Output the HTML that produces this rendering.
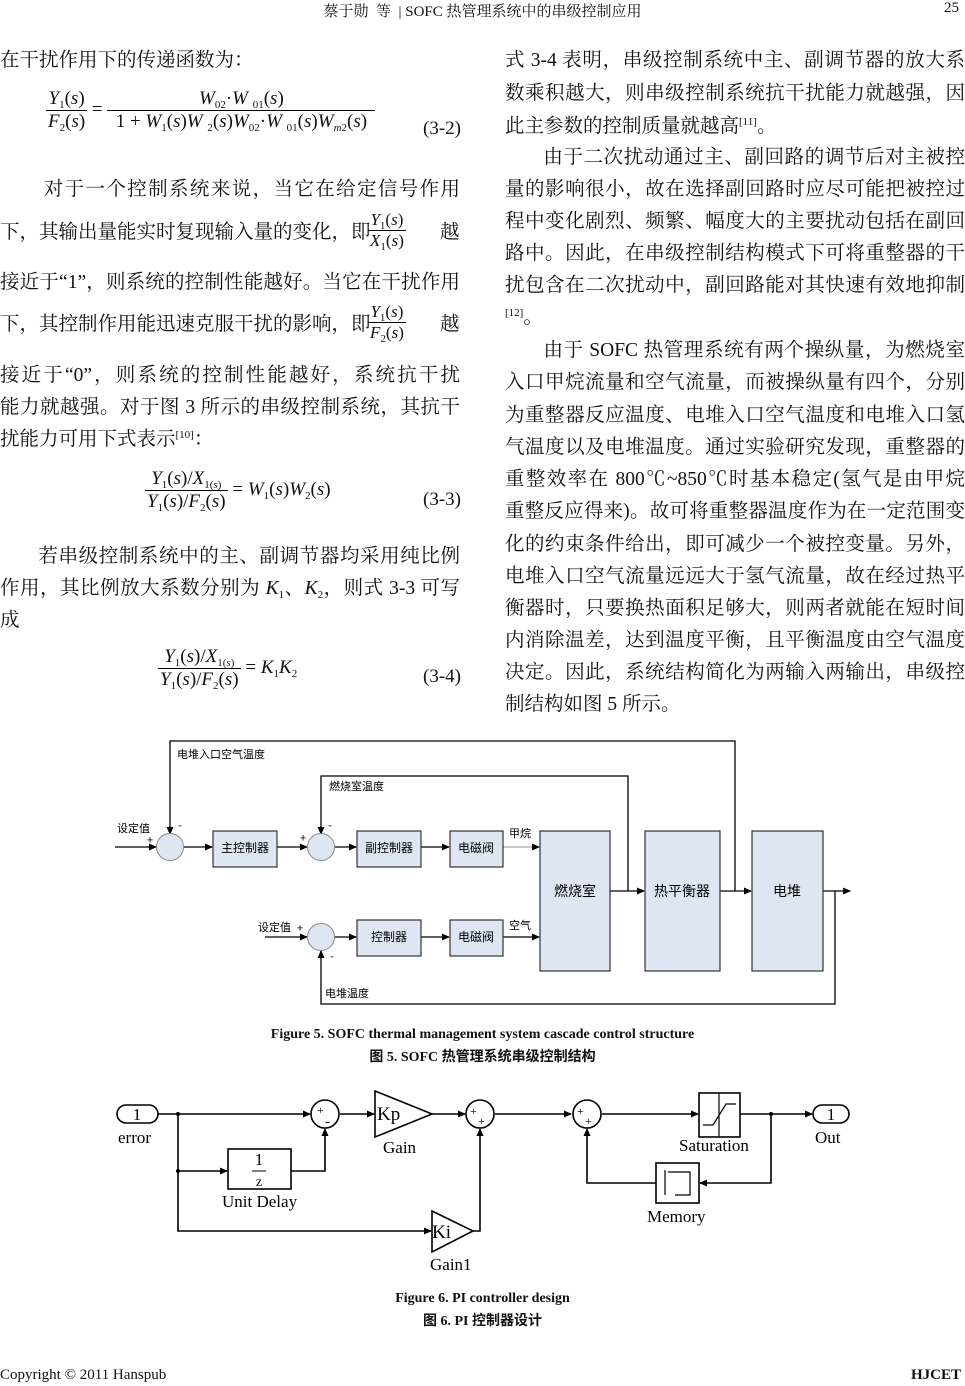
<!DOCTYPE html>
<html><head><meta charset="utf-8">
<style>
html,body{margin:0;padding:0;background:#fff;}
body{width:965px;height:1386px;position:relative;overflow:hidden;font-family:"Liberation Serif","Noto Serif CJK SC",serif;color:#111;}
.l{position:absolute;font-size:19.5px;line-height:22px;white-space:nowrap;text-align:justify;text-align-last:justify;}
.L{left:0;width:460px;}
.R{left:505px;width:460px;}
.nj{text-align-last:left;}
i{font-style:italic;}
sup{font-size:11px;vertical-align:7px;line-height:0;}
.frac{display:inline-block;vertical-align:middle;text-align:center;font-family:"Liberation Serif",serif;}
.frac>span{display:block;padding:0 2px;}
.frac>span.n{border-bottom:1px solid #000;}
.eq{position:absolute;font-family:"Liberation Serif",serif;font-size:19px;white-space:nowrap;}
sub{font-size:11px;vertical-align:-4px;line-height:0;}
.cap{position:absolute;left:0;width:965px;text-align:center;font-weight:bold;font-size:14px;font-family:"Liberation Serif","Noto Sans CJK SC",serif;}
</style></head><body>

<div style="position:absolute;left:0;width:965px;top:0;text-align:center;font-size:15px;">蔡于勋&nbsp; 等&nbsp; | SOFC 热管理系统中的串级控制应用</div>
<div style="position:absolute;right:6px;top:0;font-size:15px;">25</div>

<div class="l L nj" style="top:50px;">在干扰作用下的传递函数为：</div>
<div class="eq" style="left:46px;top:88px;">
<span class="frac"><span class="n"><i>Y</i><sub>1</sub>(<i>s</i>)</span><span><i>F</i><sub>2</sub>(<i>s</i>)</span></span> =
<span class="frac" style="width:268px;"><span class="n"><i>W</i><sub>02</sub>·<i>W</i>&nbsp;<sub>01</sub>(<i>s</i>)</span><span>1 + <i>W</i><sub>1</sub>(<i>s</i>)<i>W</i>&nbsp;<sub>2</sub>(<i>s</i>)<i>W</i><sub>02</sub>·<i>W</i>&nbsp;<sub>01</sub>(<i>s</i>)<i>W</i><sub><i>m</i>2</sub>(<i>s</i>)</span></span>
</div>
<div class="eq" style="left:423px;top:118px;">(3-2)</div>

<div class="l L" style="top:179px;">&nbsp;&nbsp;&nbsp;&nbsp;&nbsp;&nbsp;&nbsp;对于一个控制系统来说，当它在给定信号作用</div>
<div class="l L nj" style="top:222px;">下，其输出量能实时复现输入量的变化，即</div>
<div class="eq" style="left:368px;top:210px;font-size:17px;"><span class="frac"><span class="n"><i>Y</i><sub>1</sub>(<i>s</i>)</span><span><i>X</i><sub>1</sub>(<i>s</i>)</span></span></div>
<div class="l" style="left:440px;top:222px;">越</div>
<div class="l L" style="top:272px;">接近于“1”，则系统的控制性能越好。当它在干扰作用</div>
<div class="l L nj" style="top:314px;">下，其控制作用能迅速克服干扰的影响，即</div>
<div class="eq" style="left:368px;top:302px;font-size:17px;"><span class="frac"><span class="n"><i>Y</i><sub>1</sub>(<i>s</i>)</span><span><i>F</i><sub>2</sub>(<i>s</i>)</span></span></div>
<div class="l" style="left:440px;top:314px;">越</div>
<div class="l L" style="top:365px;">接近于“0”，则系统的控制性能越好，系统抗干扰</div>
<div class="l L" style="top:397px;">能力就越强。对于图 3 所示的串级控制系统，其抗干</div>
<div class="l L nj" style="top:429px;">扰能力可用下式表示<sup>[10]</sup>：</div>
<div class="eq" style="left:145px;top:468px;">
<span class="frac"><span class="n"><i>Y</i><sub>1</sub>(<i>s</i>)/<i>X</i><sub>1(<i>s</i>)</sub></span><span><i>Y</i><sub>1</sub>(<i>s</i>)/<i>F</i><sub>2</sub>(<i>s</i>)</span></span> = <i>W</i><sub>1</sub>(<i>s</i>)<i>W</i><sub>2</sub>(<i>s</i>)</div>
<div class="eq" style="left:423px;top:489px;">(3-3)</div>
<div class="l L" style="top:546px;">&nbsp;&nbsp;&nbsp;&nbsp;&nbsp;&nbsp;&nbsp;若串级控制系统中的主、副调节器均采用纯比例</div>
<div class="l L" style="top:578px;">作用，其比例放大系数分别为 <i>K</i><sub>1</sub>、<i>K</i><sub>2</sub>，则式 3-3 可写</div>
<div class="l L nj" style="top:610px;">成</div>
<div class="eq" style="left:158px;top:646px;">
<span class="frac"><span class="n"><i>Y</i><sub>1</sub>(<i>s</i>)/<i>X</i><sub>1(<i>s</i>)</sub></span><span><i>Y</i><sub>1</sub>(<i>s</i>)/<i>F</i><sub>2</sub>(<i>s</i>)</span></span> = <i>K</i><sub>1</sub><i>K</i><sub>2</sub></div>
<div class="eq" style="left:423px;top:666px;">(3-4)</div>

<div class="l R" style="top:50px;">式 3-4 表明，串级控制系统中主、副调节器的放大系</div>
<div class="l R" style="top:83px;">数乘积越大，则串级控制系统抗干扰能力就越强，因</div>
<div class="l R nj" style="top:116px;">此主参数的控制质量就越高<sup>[11]</sup>。</div>
<div class="l R" style="top:147px;">&nbsp;&nbsp;&nbsp;&nbsp;&nbsp;&nbsp;&nbsp;由于二次扰动通过主、副回路的调节后对主被控</div>
<div class="l R" style="top:179px;">量的影响很小，故在选择副回路时应尽可能把被控过</div>
<div class="l R" style="top:211px;">程中变化剧烈、频繁、幅度大的主要扰动包括在副回</div>
<div class="l R" style="top:243px;">路中。因此，在串级控制结构模式下可将重整器的干</div>
<div class="l R" style="top:275px;">扰包含在二次扰动中，副回路能对其快速有效地抑制</div>
<div class="l R nj" style="top:307px;"><sup>[12]</sup>。</div>
<div class="l R" style="top:340px;">&nbsp;&nbsp;&nbsp;&nbsp;&nbsp;&nbsp;&nbsp;由于 SOFC 热管理系统有两个操纵量，为燃烧室</div>
<div class="l R" style="top:372px;">入口甲烷流量和空气流量，而被操纵量有四个，分别</div>
<div class="l R" style="top:405px;">为重整器反应温度、电堆入口空气温度和电堆入口氢</div>
<div class="l R" style="top:437px;">气温度以及电堆温度。通过实验研究发现，重整器的</div>
<div class="l R" style="top:469px;">重整效率在 800℃~850℃时基本稳定(氢气是由甲烷</div>
<div class="l R" style="top:501px;">重整反应得来)。故可将重整器温度作为在一定范围变</div>
<div class="l R" style="top:534px;">化的约束条件给出，即可减少一个被控变量。另外，</div>
<div class="l R" style="top:566px;">电堆入口空气流量远远大于氢气流量，故在经过热平</div>
<div class="l R" style="top:598px;">衡器时，只要换热面积足够大，则两者就能在短时间</div>
<div class="l R" style="top:630px;">内消除温差，达到温度平衡，且平衡温度由空气温度</div>
<div class="l R" style="top:662px;">决定。因此，系统结构简化为两输入两输出，串级控</div>
<div class="l R nj" style="top:694px;">制结构如图 5 所示。</div>

<svg style="position:absolute;left:0;top:0" width="965" height="1386" font-family="'Noto Sans CJK SC','WenQuanYi Zen Hei',sans-serif">
<defs><marker id="a" markerWidth="8" markerHeight="8" refX="7" refY="4" orient="auto" markerUnits="userSpaceOnUse"><path d="M0,0.5 L8,4 L0,7.5z" fill="#000"/></marker></defs>
<g stroke="#000" stroke-width="1.3" fill="none">
<path d="M170,832 V741 H735 V891" />
<path d="M170,826 V834" marker-end="url(#a)"/>
<path d="M321,832 V776 H628 V891"/>
<path d="M321,826 V834" marker-end="url(#a)"/>
<path d="M115,847 H156" marker-end="url(#a)"/>
<path d="M184,847 H212" marker-end="url(#a)"/>
<path d="M277,847 H307" marker-end="url(#a)"/>
<path d="M335,847 H356" marker-end="url(#a)"/>
<path d="M421,847 H449" marker-end="url(#a)"/>
<path d="M503,847 H539" stroke="#aaa" marker-end="url(#a)"/>
<path d="M610,891 H644" marker-end="url(#a)"/>
<path d="M720,891 H751" marker-end="url(#a)"/>
<path d="M823,891 H850" marker-end="url(#a)"/>
<path d="M265,937 H307" marker-end="url(#a)"/>
<path d="M335,937 H356" marker-end="url(#a)"/>
<path d="M421,937 H449" marker-end="url(#a)"/>
<path d="M503,937 H539" marker-end="url(#a)"/>
<path d="M835,891 V1004 H321 V951"/>
<path d="M321,958 V951" marker-end="url(#a)"/>
</g>
<g stroke="#888" stroke-width="1" fill="#dde6f2">
<circle cx="170" cy="847" r="13.5"/><circle cx="321" cy="847" r="13.5"/><circle cx="321" cy="937" r="13.5"/>
</g>
<g stroke="#333" stroke-width="1.2" fill="#dde6f2">
<rect x="213" y="831" width="64" height="36"/>
<rect x="357" y="831" width="64" height="36"/>
<rect x="450" y="831" width="53" height="36"/>
<rect x="540" y="831" width="70" height="140"/>
<rect x="645" y="831" width="75" height="140"/>
<rect x="752" y="831" width="71" height="140"/>
<rect x="357" y="920" width="64" height="36"/>
<rect x="450" y="920" width="53" height="36"/>
</g>
<g font-size="11" fill="#000">
<text x="177" y="758">电堆入口空气温度</text>
<text x="329" y="790">燃烧室温度</text>
<text x="117" y="832">设定值</text>
<text x="147" y="844">+</text><text x="178" y="829">-</text>
<text x="300" y="842">+</text><text x="328" y="829">-</text>
<text x="258" y="931">设定值</text><text x="297" y="932">+</text>
<text x="330" y="960">-</text>
<text x="509" y="837">甲烷</text>
<text x="509" y="929">空气</text>
<text x="325" y="997">电堆温度</text>
<g font-size="12" text-anchor="middle">
<text x="245" y="852">主控制器</text><text x="389" y="852">副控制器</text><text x="476" y="852">电磁阀</text>
<text x="389" y="941">控制器</text><text x="476" y="941">电磁阀</text>
</g>
<g font-size="14" text-anchor="middle">
<text x="575" y="896">燃烧室</text><text x="682" y="896">热平衡器</text><text x="787" y="896">电堆</text>
</g>
</g>

<g stroke="#000" stroke-width="1.6" fill="none">
<rect x="117" y="1105" width="41" height="18" rx="9"/>
<rect x="813" y="1105" width="36" height="18" rx="9"/>
<path d="M158,1114 H310" marker-end="url(#a)"/>
<path d="M178,1114 V1231 H431" marker-end="url(#a)"/>
<path d="M178,1171 H227" marker-end="url(#a)"/>
<path d="M291,1171 H325 V1129" marker-end="url(#a)"/>
<path d="M340,1114 H374" marker-end="url(#a)"/>
<path d="M432,1114 H465" marker-end="url(#a)"/>
<path d="M473,1231 H480 V1129" marker-end="url(#a)"/>
<path d="M495,1114 H571" marker-end="url(#a)"/>
<path d="M602,1114 H698" marker-end="url(#a)"/>
<path d="M740,1114 H812" marker-end="url(#a)"/>
<path d="M771,1114 V1183 H700" marker-end="url(#a)"/>
<path d="M656,1183 H587 V1129" marker-end="url(#a)"/>
<circle cx="325" cy="1114" r="14"/><circle cx="480" cy="1114" r="14"/><circle cx="587" cy="1114" r="14"/>
<path d="M375,1091 L432,1114 L375,1137z"/>
<path d="M432,1211 L473,1231 L432,1252z"/>
<rect x="228" y="1149" width="63" height="40"/>
<rect x="699" y="1093" width="41" height="44"/>
<path d="M719,1093 V1137 M703,1125 H713 L726,1104 H736" stroke-width="1.2"/>
<rect x="656" y="1163" width="43" height="40"/>
<path d="M665,1170 V1195 M668,1172 H690 V1195 H675" stroke-width="1.2"/>
</g>
<circle cx="178" cy="1114" r="2" fill="#000"/><circle cx="178" cy="1171" r="2" fill="#000"/><circle cx="771" cy="1114" r="2" fill="#000"/>
<g font-family="'Liberation Serif',serif" font-size="17" fill="#000">
<text x="137" y="1120" text-anchor="middle">1</text>
<text x="831" y="1120" text-anchor="middle">1</text>
<text x="118" y="1143">error</text>
<text x="815" y="1143">Out</text>
<text x="317" y="1114" font-size="12">+</text><text x="325" y="1126" font-size="15">-</text>
<text x="470" y="1115" font-size="12">+</text><text x="478" y="1125" font-size="12">+</text>
<text x="577" y="1115" font-size="12">+</text><text x="585" y="1125" font-size="12">+</text>
<text x="377" y="1120" font-size="19">Kp</text>
<text x="432" y="1238" font-size="19">Ki</text>
<text x="383" y="1153">Gain</text>
<text x="430" y="1270">Gain1</text>
<text x="259" y="1165" text-anchor="middle">1</text>
<line x1="252" y1="1171" x2="266" y2="1171" stroke="#000"/>
<text x="259" y="1186" text-anchor="middle" font-size="14">z</text>
<text x="222" y="1207">Unit Delay</text>
<text x="679" y="1151">Saturation</text>
<text x="647" y="1222">Memory</text>
</g>
</svg>

<div class="cap" style="top:1027px;font-family:'Liberation Serif',serif;">Figure 5. SOFC thermal management system cascade control structure</div>
<div class="cap" style="top:1046px;">图 5. SOFC 热管理系统串级控制结构</div>
<div class="cap" style="top:1291px;font-family:'Liberation Serif',serif;">Figure 6. PI controller design</div>
<div class="cap" style="top:1310px;">图 6. PI 控制器设计</div>

<div style="position:absolute;left:0;top:1367px;font-size:15px;">Copyright © 2011 Hanspub</div>
<div style="position:absolute;right:4px;top:1367px;font-size:15px;font-weight:bold;">HJCET</div>
</body></html>
